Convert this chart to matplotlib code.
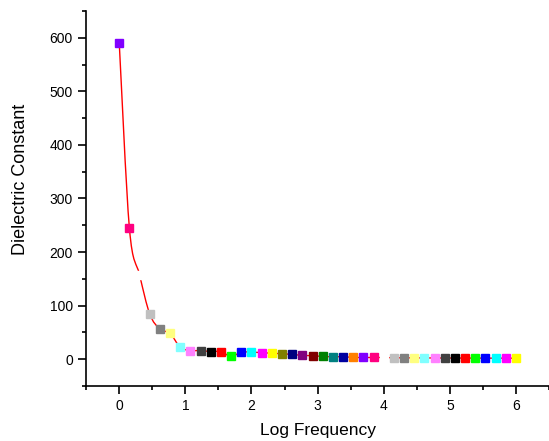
import numpy as np
import matplotlib
matplotlib.use("Agg")
import matplotlib.pyplot as plt
from matplotlib.path import Path
from matplotlib.patches import PathPatch

plt.rcParams['font.family'] = ['Liberation Sans', 'DejaVu Sans']

# log frequency (40 points from 0 to 6)
log_freq = [0.0, 0.154, 0.308, 0.462, 0.615, 0.769, 0.923, 1.077, 1.231, 1.385,
            1.538, 1.692, 1.846, 2.0, 2.154, 2.308, 2.462, 2.615, 2.769, 2.923,
            3.077, 3.231, 3.385, 3.538, 3.692, 3.846, 4.0, 4.154, 4.308, 4.462,
            4.615, 4.769, 4.923, 5.077, 5.231, 5.385, 5.538, 5.692, 5.846, 6.0]
dielectric = [590, 244, 157, 84, 56, 48, 22, 16, 16, 14,
              14, 5, 13, 13, 12, 11, 10, 8.7, 7, 6.3,
              5, 4.4, 4.4, 3.2, 3, 3, 2.9, 2.5, 2.4, 2.3,
              2.2, 2.1, 2.0, 2.0, 1.9, 1.9, 1.8, 1.8, 1.7, 1.7]

# Origin style colour cycle
origin_colors = ['#000000', '#FF0000', '#00FF00', '#0000FF', '#00FFFF', '#FF00FF',
                 '#FFFF00', '#808000', '#000080', '#800080', '#800000', '#008000',
                 '#008080', '#0000A0', '#FF8000', '#8000FF', '#FF0080', '#FFFFFF',
                 '#C0C0C0', '#808080', '#FFFF80', '#80FFFF', '#FF80FF', '#404040']
start = 15

fig = plt.figure(figsize=(5.49, 4.41), dpi=100)
ax = fig.add_axes([0.157, 0.125, 0.843, 0.85])

# smooth red line (Catmull-Rom as bezier curves)
x = np.array(log_freq)
y = np.array(dielectric, dtype=float)
verts = [(x[0], y[0])]
codes = [Path.MOVETO]
n = len(x)
for i in range(n - 1):
    p0 = np.array([x[max(i - 1, 0)], y[max(i - 1, 0)]])
    p1 = np.array([x[i], y[i]])
    p2 = np.array([x[i + 1], y[i + 1]])
    p3 = np.array([x[min(i + 2, n - 1)], y[min(i + 2, n - 1)]])
    c1 = p1 + (p2 - p0) / 6
    c2 = p2 - (p3 - p1) / 6
    verts += [tuple(c1), tuple(c2), tuple(p2)]
    codes += [Path.CURVE4] * 3
ax.add_patch(PathPatch(Path(verts, codes), facecolor='none', edgecolor='red', lw=1.0, zorder=2))

for i in range(n):
    c = origin_colors[(start + i) % len(origin_colors)]
    ax.plot(log_freq[i], dielectric[i], 's', color=c, markersize=6, mec=c, zorder=3)

ax.set_xlim(-0.5, 6.5)
ax.set_ylim(-50, 650)
ax.set_xticks(range(0, 7))
ax.set_yticks(range(0, 700, 100))
ax.set_xticks(np.arange(-0.5, 6.6, 0.5), minor=True)
ax.set_yticks(range(-50, 700, 50), minor=True)
ax.spines['top'].set_visible(False)
ax.spines['right'].set_visible(False)
ax.tick_params(which='major', direction='out', length=6, width=1.2, labelsize=10)
ax.tick_params(which='minor', direction='out', length=3, width=1.2)
ax.spines['left'].set_linewidth(1.2)
ax.spines['bottom'].set_linewidth(1.2)
ax.set_xlabel('Log Frequency', fontsize=12.5, labelpad=7)
ax.set_ylabel('Dielectric Constant', fontsize=13)
ax.yaxis.set_label_coords(-0.124, 0.55)

fig.savefig('out.png', dpi=100)
